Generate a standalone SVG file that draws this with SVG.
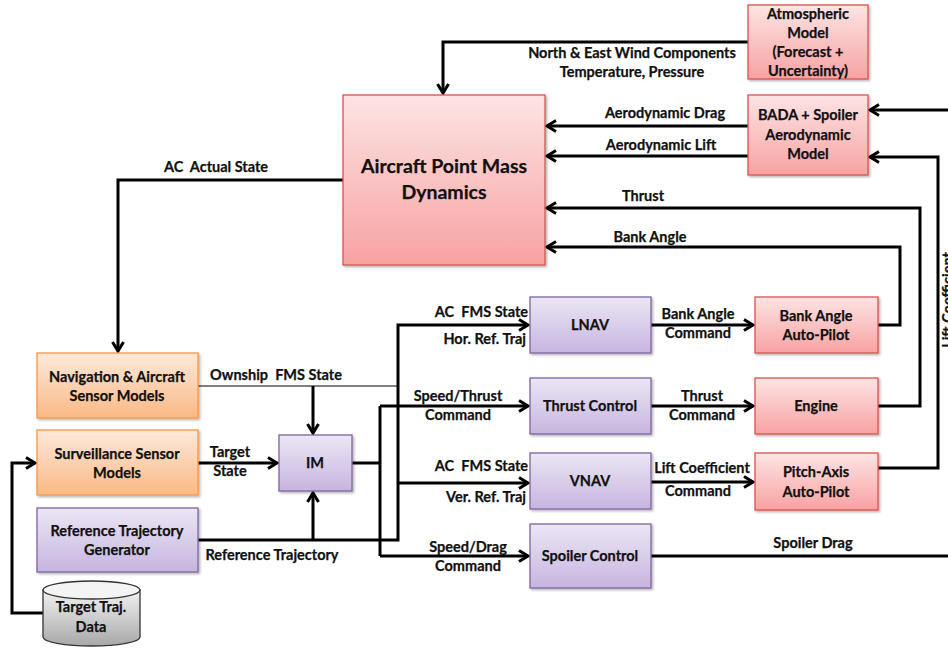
<svg xmlns="http://www.w3.org/2000/svg" width="948" height="649" viewBox="0 0 948 649">
<defs>
<linearGradient id="gRed" x1="0" y1="0" x2="0" y2="1"><stop offset="0" stop-color="#fde4e4"/><stop offset="1" stop-color="#f8a2a2"/></linearGradient>
<linearGradient id="gOr" x1="0" y1="0" x2="0" y2="1"><stop offset="0" stop-color="#fde9da"/><stop offset="1" stop-color="#fab985"/></linearGradient>
<linearGradient id="gPu" x1="0" y1="0" x2="0" y2="1"><stop offset="0" stop-color="#ece6f4"/><stop offset="1" stop-color="#c6b5e0"/></linearGradient>
<linearGradient id="gGr" x1="0" y1="0" x2="0" y2="1"><stop offset="0" stop-color="#f2f2f2"/><stop offset="1" stop-color="#a8a8a8"/></linearGradient>
<filter id="sh" x="-10%" y="-10%" width="130%" height="130%"><feDropShadow dx="1.5" dy="1.5" stdDeviation="1.2" flood-color="#000" flood-opacity="0.3"/></filter>
<marker id="ar" markerUnits="userSpaceOnUse" markerWidth="14" markerHeight="14" refX="11" refY="7" orient="auto"><path d="M2,1.5 L11,7 L2,12.5" fill="none" stroke="#000" stroke-width="3"/></marker>
</defs>
<style>
.red{fill:url(#gRed);stroke:#d9534f;stroke-width:1.3;filter:url(#sh)}
.or{fill:url(#gOr);stroke:#f79646;stroke-width:1.3;filter:url(#sh)}
.pu{fill:url(#gPu);stroke:#8064a2;stroke-width:1.3;filter:url(#sh)}
text{font-family:Lato,"Open Sans","Liberation Sans",sans-serif;font-weight:bold;font-size:14.5px;fill:#111;stroke:#111;stroke-width:0.25}
.c{text-anchor:middle}
.r{text-anchor:end}
.big{font-size:19.5px}
#conn path{fill:none;stroke:#000;stroke-width:3}
#conn path.a{marker-end:url(#ar)}
#conn path.thin{stroke-width:1}
</style>
<rect width="948" height="649" fill="#fff"/>
<g id="conn">
<path class="a" d="M748,42 H443 V93"/>
<path class="a" d="M748,126 H547"/>
<path class="a" d="M748,156 H547"/>
<path class="a" d="M878,406 H920 V208 H547"/>
<path class="a" d="M878,325 H900 V247 H547"/>
<path class="a" d="M878,468 H938 V157 H870"/>
<path class="a" d="M948,110 H870"/>
<path d="M651,556 H948"/>
<path class="a" d="M343,180 H118 V351"/>
<path class="thin" d="M198,386 H398"/>
<path class="a" d="M313,386 V433"/>
<path class="a" d="M198,463 H277"/>
<path class="a" d="M198,540 H398 V325 H528"/>
<path class="a" d="M313,540 V493"/>
<path class="a" d="M398,483 H528"/>
<path d="M352,463 H380"/>
<path d="M380,406 V556"/>
<path class="a" d="M380,406 H528"/>
<path class="a" d="M380,556 H528"/>
<path class="a" d="M651,325 H753"/>
<path class="a" d="M651,406 H753"/>
<path class="a" d="M651,482 H753"/>
<path class="a" d="M43,613 H12 V463 H35"/>
</g>
<g id="labels">
<text class="c" x="632" y="58">North &amp; East Wind Components</text>
<text class="c" x="632" y="77">Temperature, Pressure</text>
<text class="c" x="665" y="118">Aerodynamic Drag</text>
<text class="c" x="661" y="150">Aerodynamic Lift</text>
<text class="c" x="643" y="201">Thrust</text>
<text class="c" x="650" y="242">Bank Angle</text>
<text class="c" x="216" y="172">AC&#160; Actual State</text>
<text class="c" x="276" y="380">Ownship&#160; FMS State</text>
<text class="c" x="230" y="457">Target</text>
<text class="c" x="230" y="476">State</text>
<text class="c" x="272" y="560">Reference Trajectory</text>
<text class="r" x="528" y="317">AC&#160; FMS State</text>
<text class="r" x="526" y="344">Hor. Ref. Traj</text>
<text class="c" x="458" y="401">Speed/Thrust</text>
<text class="c" x="458" y="420">Command</text>
<text class="r" x="528" y="471">AC&#160; FMS State</text>
<text class="r" x="526" y="502">Ver. Ref. Traj</text>
<text class="c" x="468" y="552">Speed/Drag</text>
<text class="c" x="468" y="571">Command</text>
<text class="c" x="698" y="319">Bank Angle</text>
<text class="c" x="698" y="338">Command</text>
<text class="c" x="702" y="401">Thrust</text>
<text class="c" x="702" y="420">Command</text>
<text class="c" x="702" y="473">Lift Coefficient</text>
<text class="c" x="698" y="496">Command</text>
<text class="c" x="813" y="548">Spoiler Drag</text>
<text class="c" transform="translate(953,300) rotate(-90)" x="0" y="0">Lift Coefficient</text>
</g>
<g id="atm"><rect class="red" x="748" y="5" width="120" height="74"/>
<text class="c" x="808" y="19">Atmospheric</text><text class="c" x="808" y="38">Model</text><text class="c" x="808" y="57">(Forecast +</text><text class="c" x="808" y="76">Uncertainty)</text></g>
<g id="apmd"><rect class="red" x="343" y="95" width="202" height="170"/>
<text class="c big" x="444" y="173">Aircraft Point Mass</text><text class="c big" x="444" y="199">Dynamics</text></g>
<g id="bada"><rect class="red" x="748" y="95" width="120" height="80"/>
<text class="c" x="808" y="120">BADA + Spoiler</text><text class="c" x="808" y="140">Aerodynamic</text><text class="c" x="808" y="159">Model</text></g>
<g id="nav"><rect class="or" x="37" y="353" width="161" height="65"/>
<text class="c" x="117" y="382">Navigation &amp; Aircraft</text><text class="c" x="117" y="401">Sensor Models</text></g>
<g id="surv"><rect class="or" x="37" y="430" width="161" height="65"/>
<text class="c" x="117" y="459">Surveillance Sensor</text><text class="c" x="117" y="478">Models</text></g>
<g id="rtg"><rect class="pu" x="37" y="508" width="161" height="64"/>
<text class="c" x="117" y="536">Reference Trajectory</text><text class="c" x="117" y="555">Generator</text></g>
<g id="im"><rect class="pu" x="279" y="435" width="73" height="56"/>
<text class="c" x="315" y="468">IM</text></g>
<g id="lnav"><rect class="pu" x="530" y="297" width="121" height="56"/>
<text class="c" x="590" y="330">LNAV</text></g>
<g id="thrustctl"><rect class="pu" x="530" y="378" width="121" height="56"/>
<text class="c" x="590" y="411">Thrust Control</text></g>
<g id="vnav"><rect class="pu" x="530" y="453" width="121" height="56"/>
<text class="c" x="590" y="486">VNAV</text></g>
<g id="spoiler"><rect class="pu" x="530" y="524" width="121" height="64"/>
<text class="c" x="590" y="561">Spoiler Control</text></g>
<g id="bankap"><rect class="red" x="755" y="297" width="123" height="56"/>
<text class="c" x="816" y="321">Bank Angle</text><text class="c" x="816" y="340">Auto-Pilot</text></g>
<g id="engine"><rect class="red" x="755" y="378" width="123" height="56"/>
<text class="c" x="816" y="411">Engine</text></g>
<g id="pitchap"><rect class="red" x="755" y="453" width="123" height="57"/>
<text class="c" x="816" y="477">Pitch-Axis</text><text class="c" x="816" y="497">Auto-Pilot</text></g>
<g id="ttd">
<path d="M43,590 V637 A48.5,9 0 0 0 140,637 V590 Z" fill="url(#gGr)" stroke="#333" stroke-width="1.3"/>
<ellipse cx="91.5" cy="590" rx="48.5" ry="9" fill="#f4f4f4" stroke="#333" stroke-width="1.3"/>
<text class="c" x="91" y="612">Target Traj.</text><text class="c" x="91" y="632">Data</text></g>
</svg>
